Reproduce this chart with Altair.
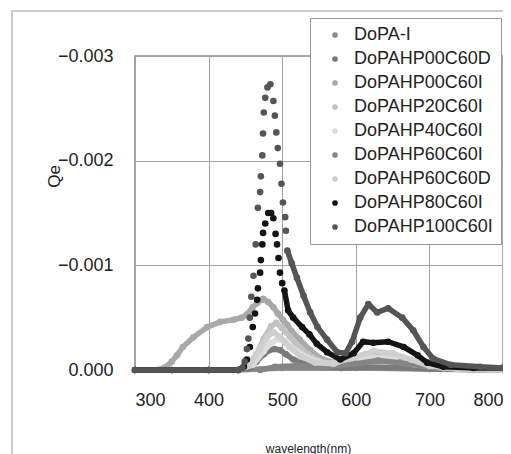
import altair as alt
import pandas as pd

series = ["DoPA-I", "DoPAHP00C60D", "DoPAHP00C60I", "DoPAHP20C60I", "DoPAHP40C60I",
          "DoPAHP60C60I", "DoPAHP60C60D", "DoPAHP80C60I", "DoPAHP100C60I"]
colors = ["#8a8a8a", "#7a7a7a", "#a9a9a9", "#c2c2c2", "#dcdcdc",
          "#858585", "#cfcfcf", "#141414", "#555555"]

wl_dopa = [300, 400, 440, 500, 600, 700, 800]
qe_dopa = [0, 0, 0, -0.00002, -0.00002, -0.00001, 0]

wl_00d = [440, 455, 465, 475, 483, 490, 497, 505, 515, 530, 545, 560, 580, 620, 700, 800]
qe_00d = [0, -0.00002, -0.00008, -0.00015, -0.00019, -0.0002, -0.00019, -0.00015, -0.0001,
          -0.00007, -0.00005, -0.00003, -0.00002, -0.00003, -0.00001, 0]

wl_00i = [330, 340, 350, 357, 365, 379, 398, 416, 434, 445, 452, 460, 466, 474, 481, 488,
          494, 501, 507, 513, 524, 538, 552, 570, 590, 620, 650, 680, 720, 760, 800]
qe_00i = [0, -0.00002, -0.00008, -0.00014, -0.00022, -0.00031, -0.00041, -0.00046, -0.00048,
          -0.0005, -0.00053, -0.0006, -0.00064, -0.00068, -0.00065, -0.0006, -0.00054,
          -0.00048, -0.00043, -0.00037, -0.00029, -0.00019, -0.00011, -0.00007, -0.00006,
          -0.00008, -0.00008, -0.00005, -0.00002, -0.00001, -0.00001]

wl_20i = [440, 455, 465, 475, 485, 492, 500, 510, 520, 535, 550, 570, 600, 620, 640, 660,
          680, 700, 740, 800]
qe_20i = [0, -0.00005, -0.00015, -0.0003, -0.00042, -0.00045, -0.0004, -0.00032, -0.00024,
          -0.00015, -0.00009, -0.00006, -0.0001, -0.00014, -0.00014, -0.00011, -0.00006,
          -0.00003, -0.00001, 0]

wl_40i = [440, 460, 475, 485, 495, 505, 520, 540, 560, 590, 620, 650, 680, 720, 800]
qe_40i = [0, -0.00005, -0.00018, -0.00026, -0.0003, -0.00026, -0.00018, -0.0001, -0.00006,
          -0.00008, -0.00012, -0.00011, -0.00006, -0.00002, 0]

wl_60i = [470, 490, 520, 560, 600, 630, 660, 700, 800]
qe_60i = [0, -0.00003, -0.00004, -0.00003, -0.00006, -0.00009, -0.00007, -0.00003, 0]

wl_60d = [440, 455, 470, 480, 488, 497, 510, 525, 545, 570, 600, 625, 650, 675, 700, 740, 800]
qe_60d = [0, -0.00004, -0.0002, -0.00032, -0.00036, -0.00032, -0.00022, -0.00013, -0.00007,
          -0.00006, -0.00013, -0.00018, -0.00016, -0.0001, -0.00004, -0.00001, 0]

wl_80i = [300, 350, 400, 440, 448, 452, 456, 460, 463, 466, 467, 470, 471, 473, 474, 477,
          481, 485, 488, 491, 493, 495, 497, 500, 503, 508, 515, 527, 537, 547, 561, 579,
          597, 610, 624, 644, 665, 684, 697, 719, 760, 800]
qe_80i = [0, 0, 0, 0, -0.00003, -0.0001, -0.00022, -0.00041, -0.00054, -0.00067, -0.00078,
          -0.00093, -0.00105, -0.0012, -0.00131, -0.0014, -0.0015, -0.0015, -0.00145, -0.0013,
          -0.0012, -0.00107, -0.00093, -0.00083, -0.00076, -0.00057, -0.0005, -0.00041,
          -0.00034, -0.00025, -0.00017, -0.0001, -0.00016, -0.00027, -0.00026, -0.00027,
          -0.00022, -0.00014, -0.00007, -0.00003, -0.00002, -0.00002]

wl_100i = [300, 350, 400, 440, 446, 449, 452, 454, 456, 458, 461, 464, 467, 470, 471, 473,
           474, 475, 477, 480, 484, 488, 490, 492, 494, 497, 499, 501, 504, 505, 507, 513,
           520, 529, 538, 548, 561, 575, 586, 595, 606, 617, 629, 644, 663, 678, 692, 705,
           729, 769, 800]
qe_100i = [0, 0, 0, 0, -0.00002, -0.00008, -0.0002, -0.0003, -0.0005, -0.0007, -0.0009,
           -0.0012, -0.00155, -0.0017, -0.00185, -0.00205, -0.00226, -0.00246, -0.0026,
           -0.0027, -0.00273, -0.00257, -0.00243, -0.00227, -0.00212, -0.00197, -0.00178,
           -0.0016, -0.00146, -0.00133, -0.00114, -0.00102, -0.00088, -0.00071, -0.00055,
           -0.00041, -0.00029, -0.00017, -0.00016, -0.00027, -0.0005, -0.00063, -0.00055,
           -0.00059, -0.0005, -0.00038, -0.00022, -0.00011, -0.00005, -0.00003, -0.00002]

x_ticks = [300, 400, 500, 600, 700, 800]
y_ticks = [0, -0.001, -0.002, -0.003]

data = {
    "DoPA-I": (wl_dopa, qe_dopa),
    "DoPAHP00C60D": (wl_00d, qe_00d),
    "DoPAHP00C60I": (wl_00i, qe_00i),
    "DoPAHP20C60I": (wl_20i, qe_20i),
    "DoPAHP40C60I": (wl_40i, qe_40i),
    "DoPAHP60C60I": (wl_60i, qe_60i),
    "DoPAHP60C60D": (wl_60d, qe_60d),
    "DoPAHP80C60I": (wl_80i, qe_80i),
    "DoPAHP100C60I": (wl_100i, qe_100i),
}
# steep parts drawn as separate markers only (no connecting line)
dotted = {"DoPAHP80C60I": (448, 503), "DoPAHP100C60I": (446, 507)}

FONT = "Liberation Sans"

x_enc = alt.X("wl:Q",
              scale=alt.Scale(domain=[300, 800], nice=False, zero=False),
              axis=alt.Axis(values=x_ticks, title="wavelength(nm)", format="d",
                            labelFontSize=18, labelPadding=21, tickSize=0, domain=False,
                            titleFontSize=12, titleFontWeight="normal", titleX=173, titleY=78,
                            titleBaseline="middle", gridColor="#a0a0a0", labelColor="#222",
                            titleColor="#222"))
y_enc = alt.Y("qe:Q",
              scale=alt.Scale(domain=[0, -0.003], nice=False, zero=False),
              axis=alt.Axis(values=y_ticks, title="Qe", format=".3f",
                            labelFontSize=18, labelPadding=22, tickSize=0, domain=False,
                            titleFontSize=17, titleFontWeight="normal", titleX=-81, titleY=120,
                            titleAngle=270, titleAlign="center", titleBaseline="middle",
                            gridColor="#a0a0a0", labelColor="#222", titleColor="#222"))

cscale = alt.Scale(domain=series, range=colors)
legend = alt.Legend(orient="none", legendX=175, legendY=-38, title=None,
                    labelFontSize=18, labelColor="#222", symbolType="circle",
                    symbolSize=32, symbolOpacity=1, symbolStrokeWidth=0,
                    symbolOffset=8, labelOffset=10, padding=8, rowPadding=6,
                    strokeColor="#999", fillColor="white")

frame = alt.Chart(pd.DataFrame({"a": [0]})).mark_rect(
    filled=False, color="#bdbdbd", strokeWidth=1.5).encode(
    x=alt.value(-123), x2=alt.value(390), y=alt.value(-45), y2=alt.value(420))

layers = [frame]
for name, col in zip(series, colors):
    wl, qe = data[name]
    df = pd.DataFrame({"wl": wl, "qe": qe, "series": name})
    if name in dotted:
        lo, hi = dotted[name]
        ldf = df[(df.wl <= lo) | (df.wl >= hi)].copy()
        ldf["seg"] = ["a" if w <= lo else "b" for w in ldf.wl]
    else:
        ldf = df.copy()
        ldf["seg"] = "a"
    line = alt.Chart(ldf).mark_line(strokeWidth=5.5, color=col, strokeJoin="round",
                                    strokeCap="round").encode(
        x=x_enc, y=y_enc, detail="seg:N")
    pts = alt.Chart(df).mark_circle(size=44, opacity=1).encode(
        x=x_enc, y=y_enc,
        color=alt.Color("series:N", scale=cscale, legend=legend))
    layers += [line, pts]

chart = alt.layer(*layers).properties(
    width=368, height=314,
    padding={"left": 127, "top": 48, "right": 0, "bottom": 84},
    autosize=alt.AutoSizeParams(type="none"),
).configure(font=FONT).configure_view(
    stroke="#8a8a8a", strokeWidth=1.5
).configure_axis(gridWidth=1)

chart.save("out.html", embed_options={"renderer": "svg", "actions": False})
